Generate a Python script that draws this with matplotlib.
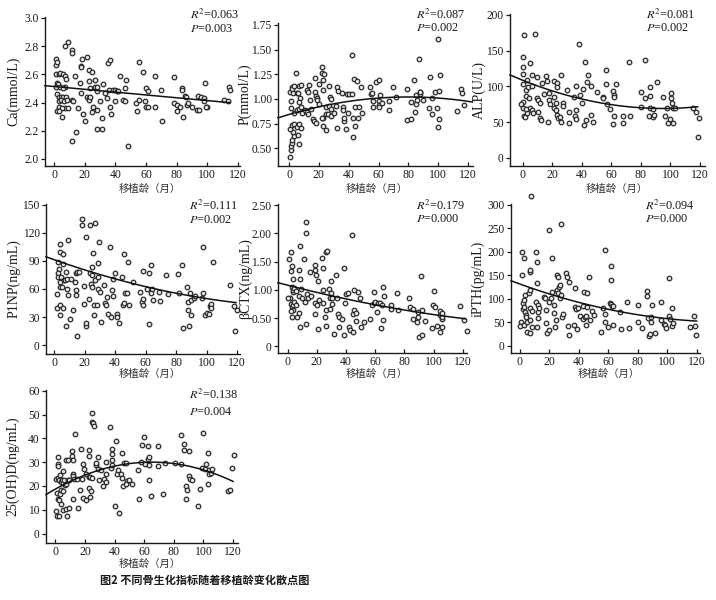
import numpy as np
import matplotlib
matplotlib.use("Agg")
import matplotlib.pyplot as plt

plt.rcParams['font.family'] = ['Liberation Serif', 'Noto Sans CJK SC']
plt.rcParams['mathtext.fontset'] = 'stix'

W, H = 716, 600
CJK = ['Noto Sans CJK SC', 'DejaVu Sans']

# ---------------- data: (transplant age in months, value) ----------------
ca_pts = [(1,2.67),(1.5,2.71),(2,2.69),(1,2.60),(3,2.60),(4,2.61),(6,2.60),(7,2.59),(8,2.57),(2,2.54),
          (2.5,2.53),(1.5,2.51),(4,2.51),(7,2.51),(6,2.50),(2,2.46),(3,2.44),(4.5,2.44),(6,2.44),(8,2.44),
          (3,2.41),(4.5,2.42),(6.5,2.41),(8.5,2.42),(3,2.37),(7,2.36),(9,2.36),(5.5,2.36),(2,2.34),(3,2.34),
          (5,2.30),(7,2.80),(9,2.83),(11.5,2.77),(11.5,2.75),(12,2.42),(12.5,2.41),(11.5,2.13),(14.5,2.19),
          (13.5,2.59),(17,2.54),(17.5,2.66),(17.5,2.65),(18.5,2.71),(17.5,2.47),(15.5,2.36),(19,2.32),
          (20,2.27),(21.5,2.72),(22.5,2.55),(23,2.63),(25,2.62),(23.5,2.50),(21.5,2.44),(22.5,2.43),
          (23,2.42),(23.5,2.44),(24.5,2.33),(27,2.56),(27,2.51),(28,2.48),(28,2.51),(28,2.21),(31,2.21),
          (28,2.35),(25.5,2.37),(30,2.41),(31.5,2.29),(33,2.47),(32,2.53),(35.5,2.68),(36.5,2.70),
          (34.5,2.43),(36,2.49),(36.5,2.37),(37,2.32),(38.5,2.49),(39.5,2.41),(40,2.49),(41,2.48),
          (42,2.48),(43,2.59),(45,2.42),(46,2.50),(47,2.56),(48.5,2.09),(46,2.41),(53.5,2.40),(54,2.34),
          (55.5,2.69),(58,2.62),(60,2.50),(61,2.48),(59.5,2.41),(60,2.37),(61.5,2.37),(55.5,2.42),
          (66,2.59),(66,2.37),(70,2.49),(70.5,2.27),(78,2.58),(78,2.40),(80.5,2.38),(80.5,2.34),
          (83.5,2.50),(83.5,2.49),(84,2.30),(85.5,2.45),(86,2.44),(86.5,2.38),(82,2.37),(87.5,2.40),
          (90,2.37),(93,2.35),(94.5,2.35),(94,2.45),(96,2.44),(97.5,2.43),(98,2.41),(99.5,2.37),
          (99,2.37),(98.5,2.54),(111,2.42),(113.5,2.41),(114,2.51),(115,2.49)]
ca_fit = [2.514, -0.001, 0.0]
ca_fit_range = [-6, 115]

p_pts = [(0.5,0.41),(1,0.48),(1.5,0.52),(2,0.55),(2,0.58),(3,0.62),(2.5,0.66),(0.5,0.70),(2,0.74),
         (3.5,0.75),(5,0.72),(6,0.63),(6.5,0.54),(1,0.98),(0.5,1.07),(2,1.12),(2,1.10),(2.5,1.06),
         (3.5,1.13),(4.5,1.26),(5,1.06),(6,1.06),(7,1.13),(8,1.14),(7.5,1.01),(7,0.97),(1.5,0.91),
         (3,0.86),(5,0.89),(6.5,0.90),(8,0.92),(9,0.86),(6.5,0.75),(8,0.71),(11,0.89),(12,0.87),
         (12.5,0.85),(12,1.09),(12.5,1.07),(14,0.99),(13.5,1.14),(15,0.90),(16,0.80),(17,0.78),
         (17.5,1.21),(17.5,1.07),(18,1.03),(18.5,1.01),(18.5,0.99),(20,0.95),(20,1.15),(18,0.76),
         (22,1.32),(22,1.26),(22.5,1.19),(23.5,1.25),(23,1.09),(23,0.81),(23,0.73),(22,0.81),
         (24.5,0.92),(25,0.85),(26,0.85),(25,0.68),(27,1.13),(27.5,1.02),(28,1.00),(27,0.93),
         (28,0.90),(28,0.83),(30,0.86),(32,1.12),(33,1.08),(31.5,0.93),(32,0.71),(35.5,1.06),
         (36,0.92),(37,0.78),(37,0.81),(38.5,0.70),(36.5,0.89),(39,1.05),(40.5,1.05),(39.5,0.86),
         (42,1.45),(42,1.05),(43,0.81),(43,0.61),(43.5,1.20),(45.5,1.18),(44.5,0.92),(44.5,0.73),
         (46,0.81),(47,0.92),(48,1.12),(49,0.86),(54,1.12),(55,1.05),(55.5,1.06),(56,0.98),
         (56.5,0.92),(58.5,1.17),(60,1.19),(60,0.98),(60,0.94),(61,1.04),(60.5,0.92),(62,0.96),
         (67,0.98),(67,0.89),(70,1.12),(71.5,1.02),(79,1.10),(79,0.79),(81.5,0.80),(82,0.97),
         (84,1.19),(85,1.04),(85,0.95),(84.5,0.87),(86,0.99),(87,1.40),(87.5,1.07),(88,1.05),
         (88,1.07),(89.5,0.99),(93.5,0.91),(94.5,1.22),(95.5,1.01),(96,0.85),(97.5,1.07),(99,0.91),
         (100,1.61),(100,0.72),(100.5,1.08),(100.5,0.80),(101.5,1.24),(112.5,0.88),(115,1.10),
         (116,1.06),(117,0.94)]
p_fit = [0.8427, 0.004432, -2.77e-5]
p_fit_range = [-7.4, 123]

alp_pts = [(0,141.6),(0,126.6),(0,118),(1,172),(0,78),(-1,75),(0,70),(1,58),(1.5,56.5),(0.5,104),
           (2,95),(2.5,86.5),(3,109),(3.5,99),(5,133),(6,116),(6.5,100.5),(4,83),(5,70),(6,67),(7,63),
           (3,62),(2.5,68),(8.5,173),(9.5,113.5),(9.5,83),(10.5,81),(11.5,76),(10.5,64.5),(11.5,55),
           (12.5,53),(13,105),(14.5,89),(16,114.5),(16.5,108),(17.5,90),(18,81),(18.5,75),(17,50.5),
           (21,85.5),(21.5,69),(22.5,67),(21.5,108),(23,105),(23.5,98.5),(22.5,76),(23,60),(24,55),
           (25.5,57.5),(26,116),(27,76),(27.5,72.5),(26,50.5),(30,95),(31.5,64.5),(31.5,49),
           (34.5,85.5),(36,100.5),(36,67),(35.5,58.5),(36,54),(38,160),(39,88),(40,76),(41,96),
           (41.5,46),(42,134.5),(43,53),(43.5,106.5),(44,116),(46,100.5),(46,60),(47.5,50.5),
           (50,92.5),(54.5,85.5),(54.5,83),(56.5,123),(56.5,103),(57,75),(59,68),(61,94),(61.5,88),
           (62,85.5),(61.5,58.5),(61,47),(63,104),(68,58.5),(68,48),(72,134.5),(72.5,58.5),(80,92.5),
           (80,71.5),(83,137),(82.5,83),(86,99.5),(86,86.5),(86,69),(85.5,58.5),(88,56.5),(88,68),
           (89,60),(91,106.5),(95,84.5),(96,58.5),(97.5,69),(98.5,49),(99.5,54),(100.5,91),(100.5,84),
           (101,76),(102,69),(102,48),(103,69),(115.5,69),(117,64.5),(119,55),(118.5,29.5)]
alp_fit = [108.53, -0.8322, 0.00438]
alp_fit_range = [-8.6, 118.5]

p1np_pts = [(1.5,55),(1.5,40),(2.5,89),(3,81),(2.5,77),(2.5,72.5),(3.5,67),(3.5,62.5),(4,108),(4,100),
            (3.5,32),(4,43),(4.5,73),(5,62),(5.5,97.5),(5.5,87),(6,40),(6.5,70),(7,69.5),(7.5,78.5),
            (8,70.5),(9,112),(8.5,60),(9,53.5),(7.5,20),(10,27.5),(11,70.5),(12.5,38),(13.5,68),(14,59),
            (14,53.5),(14.5,77.5),(15,78.5),(16,78.5),(15,10),(18,134.5),(18,128.5),(19.5,63),(19.5,44),
            (20.5,20),(21,24),(21,116),(23,49),(23.5,77.5),(23.5,128.5),(24,65),(24.5,84),(24.5,75),
            (25,62.5),(25.5,99),(26,32),(26,43),(27,131),(27,70),(28,43),(28.5,88),(29,72.5),(29,60),
            (29.5,110.5),(30,57),(30.5,25),(32.5,64),(33.5,45),(34,43),(34.5,51),(35,33),(36.5,104.5),
            (37,30.5),(38,59),(38.5,52.5),(38.5,70.5),(40,77.5),(41,33),(41,30.5),(42.5,24),(44.5,72.5),
            (45,43),(45.5,98),(45.5,45),(46.5,56),(48,56),(48.5,89),(49,43),(51.5,67),(56.5,57),
            (57.5,46.5),(58.5,43),(58.5,79),(58.5,49),(61,60.5),(62,77.5),(62,23),(63.5,85.5),
            (64,60.5),(63.5,56),(64.5,48),(69.5,47.5),(69,57),(73.5,75),(74.5,54.5),(81.5,76),(82,56),
            (84,85.5),(84.5,18.5),(87,62),(87.5,46.5),(88,37),(88.5,20),(89,55.5),(90,32),(90,48),
            (91.5,50),(92.5,52),(97,50),(97.5,56),(98,104.5),(99,32),(100,34.5),(101.5,33),(102.5,42),
            (103,44),(103,39.5),(104,89),(115.5,64),(118,42),(119,14.5),(120,37)]
p1np_fit = [91.27, -0.5757, 0.001604]
p1np_fit_range = [-5.5, 119.4]

ctx_pts = [(1,1.54),(2,1.67),(2.5,1.34),(3,1.42),(3.5,1.20),(1.5,0.85),(0.5,0.85),(3,1.05),(3.5,0.96),
           (4,1.00),(4.5,1.04),(2.5,0.76),(3,0.70),(3.5,0.64),(4,0.73),(4.5,0.79),(5.5,0.74),(2,0.63),
           (3,0.52),(6.5,0.52),(5.5,0.99),(7.5,1.35),(8.5,1.77),(8.5,1.20),(9,1.02),(8,0.90),(9.5,0.85),
           (8,0.59),(8.5,0.35),(11,1.55),(12.5,2.20),(12.5,2.00),(12,0.79),(12.5,0.40),(13.5,0.92),
           (14,0.86),(15,1.32),(16,0.89),(18.5,1.45),(19,1.35),(18.5,0.58),(19.5,1.26),(19,0.77),
           (20,0.74),(20.5,0.31),(21.5,0.82),(21,1.16),(23.5,1.57),(24,1.39),(24.5,1.00),(24.5,0.77),
           (25.5,0.53),(26,0.37),(26.5,1.67),(27,1.69),(26.5,0.64),(28,1.02),(29,0.67),(29,0.85),
           (30,1.16),(30,0.95),(30.5,0.86),(30.5,0.76),(31.5,0.22),(33,1.26),(34,0.85),(34.5,0.58),
           (35,0.52),(35.5,0.34),(37.5,0.49),(38.5,1.39),(38.5,0.21),(39,0.77),(40,0.92),(41,0.95),
           (42,0.35),(43,0.30),(44,1.97),(44.5,0.25),(45,0.57),(45.5,0.64),(45.5,1.00),(46.5,0.59),
           (47,0.45),(48.5,0.96),(49.5,0.85),(50,0.35),(52.5,0.43),(56.5,0.49),(58,0.74),(59,0.96),
           (59,0.77),(60,0.79),(61,0.61),(62,0.77),(63,0.77),(64,0.33),(65,1.06),(65,0.46),(66,0.90),
           (64.5,0.73),(70.5,0.73),(70.5,0.67),(75,0.95),(75.5,0.65),(83,0.85),(84,0.70),(85.5,0.67),
           (86,0.49),(88.5,0.43),(89.5,0.52),(89.5,0.61),(90,0.17),(91,1.24),(92,0.21),(92,0.65),
           (94,0.45),(98.5,0.33),(99.5,0.73),(100,0.99),(101,0.69),(102,0.37),(104,0.63),(104.5,0.55),
           (104.5,0.25),(105.5,0.49),(105.5,0.35),(106,0.52),(106,0.59),(118,0.71),(121,0.46),
           (122.5,0.27)]
ctx_fit = [1.0836, -0.006643, 1.448e-5]
ctx_fit_range = [-6.6, 121.6]

ipth_pts = [(7.3,318),(1.5,200.7),(2.5,186.5),(1.5,151),(1,52),(0,42.5),(2,91),(2.5,98),(3.5,108.5),
            (2,78),(3,82),(3.5,73),(4,66),(4,61),(2.5,45),(4.5,30.5),(6.5,28.5),(5,52),(6.5,55),
            (6,113.5),(7,119),(6.5,158),(7,161.5),(7,80),(8,75),(8,41),(11,200.7),(11.5,179.5),
            (11.5,133),(11,94),(11.5,41),(12,59),(12.5,73),(12.5,87),(13,80),(16,103.5),(17,101.5),
            (17.5,76.5),(18,49.5),(18.5,27),(19.5,34),(20,94),(20,247),(21,101.5),(22,186.5),
            (22,115.5),(23,87),(23,71),(23.5,41),(24.5,55),(25,119),(25,151),(25.5,146),(26,112),
            (26.5,126),(27,130),(27.5,101.5),(28,259),(28,108.5),(28.5,62.5),(29.5,68),(31,156),
            (32,146),(32.5,42.5),(33.5,137),(33.5,23.5),(36.5,45),(37.5,122.5),(37.5,82),(38,78),
            (38.5,35.5),(39.5,80),(40.5,64),(42.5,84),(43,57),(43.5,115.5),(44,61),(45,64),(45,45),
            (45.5,113.5),(45.5,82),(47,146),(47.5,55),(49,75),(50,66),(55,30.5),(56.5,80),(57.5,204),
            (58,69),(58,52),(59.5,40),(61,92),(61.5,89),(62,170),(62,140),(62.5,85),(63,45),(63.5,84),
            (68,73),(68.5,35.5),(72.5,94),(74,37.5),(80.5,87),(80.5,52),(83,37.5),(86,118),(86.5,106.5),
            (87,59),(87.5,21),(88.5,25.5),(89,62.5),(89,52),(89.5,87),(91.5,28.5),(95.5,94),(96,55),
            (98,47),(98.5,45),(99.5,37.5),(101,144),(101.5,64),(102,57),(103,80),(103,42.5),
            (104,49.5),(115.5,41),(118,64),(119,42.5),(119.5,23.5)]
ipth_fit = [131.7, -1.134, 0.003985]
ipth_fit_range = [-6.1, 120]

vd_pts = [(0.5,9.5),(1,7.3),(2.5,7.5),(1.5,14.7),(2.5,14.3),(1,17),(3,16.8),(0.5,23.1),(1.5,23.5),
          (1.5,32),(1.5,29.2),(1.5,28.3),(3,24.5),(2.5,22.4),(3.5,21.7),(4.5,22.7),(5,21.3),(6,22.4),
          (6.5,20.3),(3.5,18.5),(5,17.9),(4,12.6),(5.5,9.8),(7.5,10.5),(8,7.3),(9,10.9),(7,20.7),
          (8.5,22.4),(7.5,30.8),(8.5,31.1),(5.5,26.3),(9.5,22.4),(11,34.8),(11.5,32.5),(12,31.1),
          (12,25),(12,24.1),(12.5,23.1),(13,41.8),(12,14.7),(14.5,23.1),(15,10.9),(16.5,18.2),
          (17.5,35.7),(18,23.1),(18.5,15.1),(19,29.4),(19.5,27.3),(20.5,25),(21,14.3),(22.5,23.8),
          (22.5,35),(22.5,32.5),(22.5,19.3),(23.5,23.8),(23.5,15.4),(24,17.9),(25,50.5),(25,47),
          (25.5,46.5),(26,45.1),(24.5,23.5),(27.5,28.7),(27.5,29.7),(29,27.3),(29,32),(29.5,22.7),
          (31,26.9),(32.5,19.9),(33,23.1),(34,25),(34.5,30.1),(34.5,21.7),(37,44.9),(37.5,27.7),
          (38,28.7),(38,35.7),(38,33.4),(38,31.1),(40,11.5),(41,39),(41.5,25),(42.5,26.6),(43,8.7),
          (44,25),(45,23.5),(45,33.9),(46,19.9),(46.5,29.7),(48,29.7),(48.5,22.1),(48,20.7),
          (49.5,22.7),(51.5,20.7),(56,26.9),(56.5,14.7),(58,30.1),(58.5,37.1),(60,40.4),(60.5,29.4),
          (62.5,31.5),(62.5,36.7),(63.5,32),(63.5,28.7),(63.5,22.4),(64.5,15.7),(69,28.3),(69.5,36.7),
          (73,16.8),(74,29.7),(81,29.7),(84.5,41.3),(84.5,29.2),(87,37.6),(87,35.3),(88,19.9),
          (88.5,14.7),(89,18.2),(90,34.8),(90.5,24.1),(91,23.1),(92.5,22.7),(96.5,11.5),(97.5,18.9),
          (99,27.7),(100,42.3),(101,27.3),(102,29.2),(103,21),(103,33.9),(103.5,26.9),(104,25.2),
          (105,25.5),(105.5,27.3),(116.5,17.9),(118,18.5),(119.5,27.7),(120.5,32.9)]
vd_fit = [18.677, 0.3484, -0.00268]
vd_fit_range = [-6.3, 120]

xticks = [0, 20, 40, 60, 80, 100, 120]
xlabel_text = '移植龄（月）'
caption = '图2 不同骨生化指标随着移植龄变化散点图'

# ---------------- layout (pixels) ----------------
panels = [
    dict(pts=ca_pts, fit=ca_fit, fr=ca_fit_range, ylabel='Ca(mmol/L)',
         yt=[2.0, 2.2, 2.4, 2.6, 2.8, 3.0], ytl=['2.0', '2.2', '2.4', '2.6', '2.8', '3.0'],
         box=(45, 240, 17, 166), xlim=(-5.9, 121.3), ylim=(1.95, 3.007),
         ann=(190, 15, 29), r2='0.063', p='0.003', ylx=14, xl=(150, 189)),
    dict(pts=p_pts, fit=p_fit, fr=p_fit_range, ylabel='P(mmol/L)',
         yt=[0.5, 0.75, 1.0, 1.25, 1.5, 1.75], ytl=['0.50', '0.75', '1.00', '1.25', '1.50', '1.75'],
         box=(278, 473, 23, 166), xlim=(-7.4, 123.3), ylim=(0.32, 1.77),
         ann=(416, 15, 28), r2='0.087', p='0.002', ylx=245, xl=(377, 189)),
    dict(pts=alp_pts, fit=alp_fit, fr=alp_fit_range, ylabel='ALP(U/L)',
         yt=[0, 50, 100, 150, 200], ytl=['0', '50', '100', '150', '200'],
         box=(510, 705, 14, 166), xlim=(-8.6, 123.4), ylim=(-11.6, 201.4),
         ann=(646, 15, 28), r2='0.081', p='0.002', ylx=479, xl=(617, 189)),
    dict(pts=p1np_pts, fit=p1np_fit, fr=p1np_fit_range, ylabel='P1NP(ng/mL)',
         yt=[0, 30, 60, 90, 120, 150], ytl=['0', '30', '60', '90', '120', '150'],
         box=(46, 240, 204, 354), xlim=(-5.5, 122), ylim=(-9.6, 151),
         ann=(189, 206, 220), r2='0.111', p='0.002', ylx=14, xl=(150, 374)),
    dict(pts=ctx_pts, fit=ctx_fit, fr=ctx_fit_range, ylabel='βCTX(ng/mL)',
         yt=[0, 0.5, 1.0, 1.5, 2.0, 2.5], ytl=['0', '0.50', '1.00', '1.50', '2.00', '2.50'],
         box=(278, 467, 204, 353), xlim=(-6.6, 122.8), ylim=(-0.115, 2.52),
         ann=(416, 206, 219), r2='0.179', p='0.000', ylx=245, xl=(377, 374)),
    dict(pts=ipth_pts, fit=ipth_fit, fr=ipth_fit_range, ylabel='iPTH(pg/mL)',
         yt=[0, 50, 100, 150, 200, 250, 300], ytl=['0', '50', '100', '150', '200', '250', '300'],
         box=(511, 700, 204, 353), xlim=(-6.1, 122.3), ylim=(-14.9, 302),
         ann=(645, 206, 219), r2='0.094', p='0.000', ylx=478, xl=(609, 374)),
    dict(pts=vd_pts, fit=vd_fit, fr=vd_fit_range, ylabel='25(OH)D(ng/mL)',
         yt=[0, 10, 20, 30, 40, 50, 60], ytl=['0', '10', '20', '30', '40', '50', '60'],
         box=(46, 238, 390, 543), xlim=(-6.3, 123.3), ylim=(-3.96, 60.3),
         ann=(189, 395, 412), r2='0.138', p='0.004', ylx=13, xl=(150, 564)),
]

fig = plt.figure(figsize=(W / 100, H / 100), dpi=100)
fig.patch.set_facecolor('white')

def fx(px):
    return px / W

def fy(py):
    return 1 - py / H

for pnl in panels:
    l, r, t, b = pnl['box']
    ax = fig.add_axes([fx(l), fy(b), (r - l) / W, (b - t) / H])
    ax.set_xlim(*pnl['xlim'])
    ax.set_ylim(*pnl['ylim'])
    for s in ('top', 'right'):
        ax.spines[s].set_visible(False)
    for s in ('left', 'bottom'):
        ax.spines[s].set_linewidth(1.0)
        ax.spines[s].set_color('#1a1a1a')
    ax.set_xticks(xticks)
    ax.set_xticklabels([str(v) for v in xticks])
    ax.set_yticks(pnl['yt'])
    ax.set_yticklabels(pnl['ytl'])
    ax.tick_params(axis='x', direction='in', length=3, width=0.9, pad=2,
                   labelsize=8.5, colors='#1a1a1a')
    ax.tick_params(axis='y', direction='out', length=3, width=0.9, pad=1.5,
                   labelsize=8.3, colors='#1a1a1a')
    xs_pts = [q[0] for q in pnl['pts']]
    ys_pts = [q[1] for q in pnl['pts']]
    ax.plot(xs_pts, ys_pts, linestyle='none', marker='o', markersize=3.3,
            markeredgewidth=0.9, markeredgecolor='#2a2a2a', markerfacecolor='#e6e6e6',
            clip_on=False, zorder=3)
    c = pnl['fit']
    xs = np.linspace(pnl['fr'][0], pnl['fr'][1], 200)
    ys = c[0] + c[1] * xs + c[2] * xs ** 2
    ax.plot(xs, ys, color='#111111', linewidth=1.1, zorder=4, clip_on=False)
    ax.set_ylabel(pnl['ylabel'], fontsize=10, color='#1a1a1a')
    ax.yaxis.set_label_coords(fx(pnl['ylx']), fy((t + b) / 2), transform=fig.transFigure)
    ax.yaxis.label.set_verticalalignment('center')
    ax.yaxis.label.set_horizontalalignment('center')
    ax_, y1, y2 = pnl['ann']
    fig.text(fx(ax_), fy(y1), r'$R^2$=' + pnl['r2'], fontsize=8.8,
             va='center', ha='left', color='#1a1a1a')
    fig.text(fx(ax_), fy(y2), r'$P$=' + pnl['p'], fontsize=8.8,
             va='center', ha='left', color='#1a1a1a')
    xlx, xly = pnl['xl']
    fig.text(fx(xlx), fy(xly), xlabel_text, family=CJK, fontsize=7.5, ha='center',
             va='center', color='#333333')

fig.text(fx(100), fy(580), caption, family=CJK, fontsize=8, fontweight='bold',
         ha='left', va='center', color='#1a1a1a')

fig.savefig('out.png', dpi=100, facecolor='white')
